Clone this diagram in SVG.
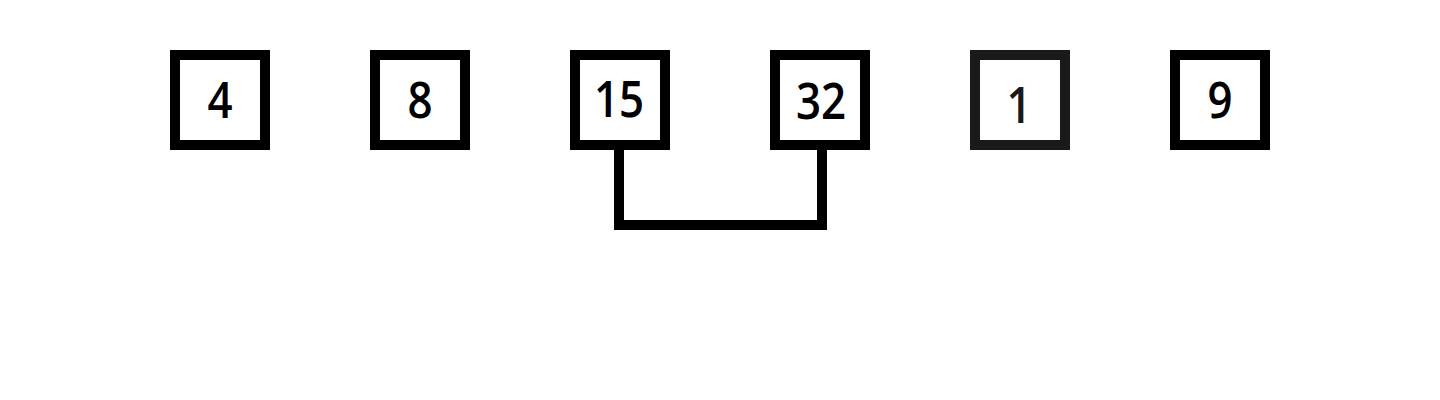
<svg xmlns="http://www.w3.org/2000/svg" width="1440" height="400" viewBox="0 0 1440 400">
<style>
.box{fill:#fff;stroke:#000;stroke-width:10}
.lbl{font-family:"Open Sans","Noto Sans",sans-serif;font-size:51px;font-weight:600;text-anchor:middle;fill:#000}
.conn{fill:none;stroke:#000;stroke-width:10;stroke-linejoin:miter;stroke-linecap:butt}
</style>
<rect width="1440" height="400" fill="#fff"/>
<g id="connectors">
<path class="conn" d="M619,150 V225 H822 V150"/>
</g>
<g id="n4"><rect class="box" x="175" y="55" width="90" height="90"/><text class="lbl" transform="translate(220,118) scale(0.86,1)">4</text></g>
<g id="n8"><rect class="box" x="375" y="55" width="90" height="90"/><text class="lbl" transform="translate(420,118) scale(0.86,1)">8</text></g>
<g id="n15"><rect class="box" x="575" y="55" width="90" height="90"/><text class="lbl" transform="translate(619,117) scale(0.86,1)">15</text></g>
<g id="n32"><rect class="box" x="775" y="55" width="90" height="90"/><text class="lbl" transform="translate(821,119) scale(0.86,1)">32</text></g>
<g id="n1"><rect class="box" x="975" y="55" width="90" height="90" style="stroke:#1a1a1a"/><text class="lbl" transform="translate(1019,123) scale(0.86,1)" style="fill:#1a1a1a">1</text></g>
<g id="n9"><rect class="box" x="1175" y="55" width="90" height="90"/><text class="lbl" transform="translate(1220,118) scale(0.86,1)">9</text></g>
</svg>
